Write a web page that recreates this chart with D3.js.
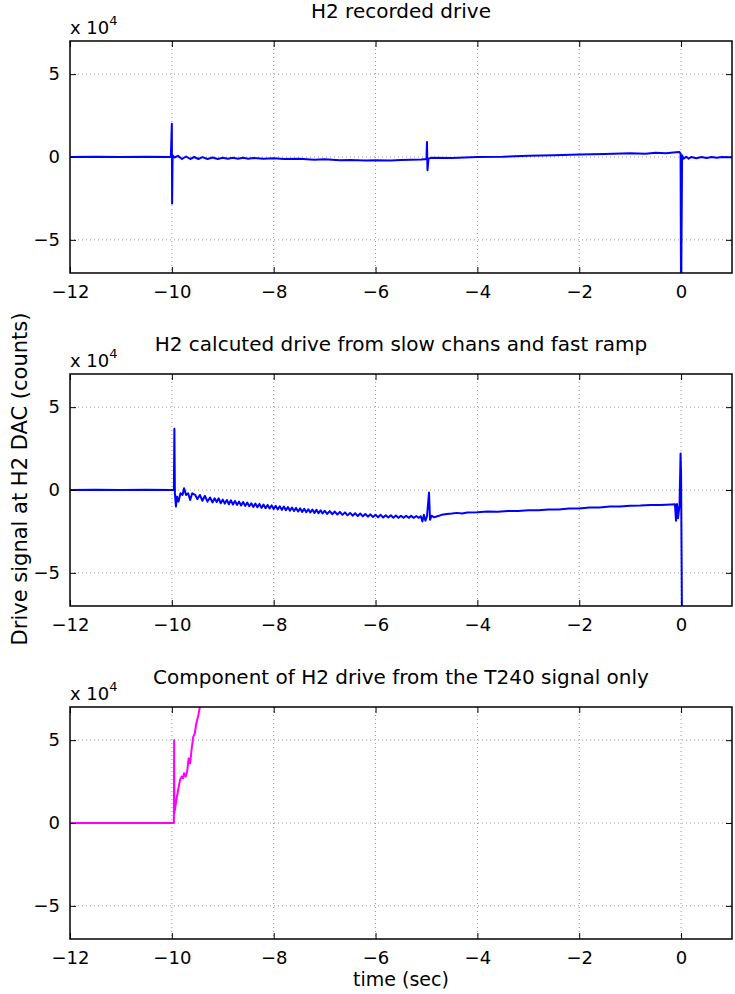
<!DOCTYPE html>
<html>
<head>
<meta charset="utf-8">
<script src="https://cdn.jsdelivr.net/npm/d3@7"></script>
<style>
  body { margin: 0; background: #fff; }
  svg text { font-family: "DejaVu Sans", sans-serif; fill: #000; }
  .grid line { stroke: #999; stroke-dasharray: 1,3; }
</style>
</head>
<body>
<div class="chart"></div>
<script>
// values in units of 10^4 counts, time in seconds
const xTicks = [-12, -10, -8, -6, -4, -2, 0];
const yTicks = [-5, 0, 5];
const titles = [
  'H2 recorded drive',
  'H2 calcuted drive from slow chans and fast ramp',
  'Component of H2 drive from the T240 signal only'
];

const recordedDrive = [
  [-12, 0.0], [-11.5, 0.02], [-11, 0.0], [-10.5, 0.02], [-10.02, 0.0], [-10.0, 2.0], [-9.995, -2.8],
  [-9.985, 0.1], [-9.95, -0.03], [-9.88, 0.07], [-9.8, -0.12], [-9.72, 0.03], [-9.64, -0.12],
  [-9.56, 0.0], [-9.48, -0.12], [-9.4, -0.01], [-9.3, -0.12], [-9.2, -0.03], [-9.1, -0.12],
  [-9.0, -0.04], [-8.9, -0.11], [-8.8, -0.04], [-8.7, -0.11], [-8.6, -0.05], [-8.5, -0.11],
  [-8.4, -0.06], [-8.2, -0.11], [-8.0, -0.08], [-7.8, -0.12], [-7.5, -0.1], [-7.2, -0.16],
  [-7.0, -0.14], [-6.7, -0.19], [-6.5, -0.18], [-6.2, -0.21], [-6.0, -0.2], [-5.7, -0.21],
  [-5.5, -0.18], [-5.1, -0.15], [-5.0, -0.12], [-4.99, 0.9], [-4.98, -0.8], [-4.96, -0.1],
  [-4.9, -0.05], [-4.5, -0.06], [-4.0, 0.0], [-3.5, 0.02], [-3.0, 0.08], [-2.5, 0.1],
  [-2.0, 0.15], [-1.5, 0.18], [-1.0, 0.22], [-0.7, 0.2], [-0.5, 0.25], [-0.3, 0.22],
  [-0.1, 0.28], [-0.03, 0.3], [-0.01, 0.2], [0.0, -9], [0.02, 0.1], [0.05, -0.1],
  [0.1, 0.02], [0.15, -0.1], [0.2, 0.0], [0.3, -0.08], [0.4, 0.0], [0.5, -0.06],
  [0.6, 0.0], [0.7, -0.04], [0.8, 0.0], [1.0, -0.02]
];

const calculatedDrive = [
  [-12, 0], [-11.5, 0.02], [-11, 0.0], [-10.5, 0.02], [-10.0, 0.0], [-9.96, 0.0], [-9.95, 3.7],
  [-9.94, -0.2], [-9.92, -1.0], [-9.9, -0.4], [-9.87, -0.7], [-9.83, -0.2], [-9.79, -0.3],
  [-9.76, 0.1], [-9.72, -0.3], [-9.68, -0.2], [-9.64, -0.6], [-9.6, -0.2], [-9.54, -0.3],
  [-9.5, -0.55], [-9.45, -0.3], [-9.4, -0.65], [-9.35, -0.35], [-9.3, -0.7], [-9.25, -0.45],
  [-9.2, -0.75], [-9.16, -0.5], [-9.12, -0.72], [-9.08, -0.5], [-9.04, -0.8], [-9.0, -0.58],
  [-8.96, -0.82], [-8.92, -0.6], [-8.88, -0.86], [-8.84, -0.62], [-8.8, -0.88], [-8.76, -0.66],
  [-8.72, -0.9], [-8.68, -0.7], [-8.64, -0.94], [-8.6, -0.72], [-8.56, -0.96], [-8.52, -0.76],
  [-8.48, -0.98], [-8.44, -0.8], [-8.4, -1.02], [-8.36, -0.82], [-8.32, -1.04], [-8.28, -0.84],
  [-8.24, -1.08], [-8.2, -0.88], [-8.16, -1.1], [-8.12, -0.9], [-8.08, -1.12], [-8.04, -0.93],
  [-8.0, -1.14], [-7.96, -0.96], [-7.92, -1.17], [-7.88, -0.98], [-7.84, -1.2], [-7.8, -1.0],
  [-7.76, -1.22], [-7.72, -1.03], [-7.68, -1.25], [-7.64, -1.06], [-7.6, -1.27], [-7.56, -1.08],
  [-7.52, -1.3], [-7.48, -1.11], [-7.44, -1.32], [-7.4, -1.13], [-7.36, -1.34], [-7.32, -1.16],
  [-7.28, -1.36], [-7.24, -1.18], [-7.2, -1.38], [-7.16, -1.2], [-7.12, -1.4], [-7.08, -1.22],
  [-7.04, -1.42], [-7.0, -1.25], [-6.95, -1.44], [-6.9, -1.27], [-6.85, -1.46], [-6.8, -1.3],
  [-6.75, -1.48], [-6.7, -1.32], [-6.65, -1.5], [-6.6, -1.35], [-6.55, -1.53], [-6.5, -1.38],
  [-6.45, -1.55], [-6.4, -1.4], [-6.35, -1.57], [-6.3, -1.42], [-6.25, -1.59], [-6.2, -1.45],
  [-6.15, -1.61], [-6.1, -1.47], [-6.05, -1.63], [-6.0, -1.49], [-5.95, -1.64], [-5.9, -1.5],
  [-5.85, -1.66], [-5.8, -1.52], [-5.75, -1.66], [-5.7, -1.53], [-5.65, -1.67], [-5.6, -1.54],
  [-5.55, -1.68], [-5.5, -1.55], [-5.45, -1.68], [-5.4, -1.55], [-5.35, -1.68], [-5.3, -1.56],
  [-5.25, -1.68], [-5.2, -1.57], [-5.15, -1.68], [-5.11, -1.58], [-5.08, -1.9], [-5.05, -1.5],
  [-5.02, -1.85], [-4.99, -1.6], [-4.95, -0.15], [-4.93, -1.8], [-4.9, -1.55], [-4.85, -1.65],
  [-4.8, -1.6], [-4.7, -1.5], [-4.6, -1.45], [-4.5, -1.42], [-4.4, -1.38], [-4.3, -1.42],
  [-4.2, -1.36], [-4.0, -1.34], [-3.8, -1.3], [-3.6, -1.31], [-3.4, -1.26], [-3.2, -1.27],
  [-3.0, -1.22], [-2.8, -1.22], [-2.6, -1.17], [-2.4, -1.17], [-2.2, -1.12], [-2.0, -1.11],
  [-1.8, -1.06], [-1.6, -1.05], [-1.4, -1.0], [-1.2, -0.99], [-1.0, -0.95], [-0.8, -0.94],
  [-0.6, -0.9], [-0.4, -0.91], [-0.2, -0.87], [-0.12, -0.86], [-0.1, -1.85], [-0.08, -0.85],
  [-0.06, -1.7], [-0.03, -0.9], [-0.01, 2.2], [0.0, 1.0], [0.02, -9]
];

const t240Component = [
  [-12, 0], [-11, 0], [-10, 0], [-9.96, 0], [-9.955, 5.0], [-9.95, 0.6], [-9.93, 1.0],
  [-9.9, 1.6], [-9.87, 2.1], [-9.84, 2.6], [-9.81, 2.8], [-9.78, 2.7], [-9.76, 3.0],
  [-9.73, 2.8], [-9.7, 3.1], [-9.67, 3.9], [-9.64, 3.6], [-9.61, 4.5], [-9.58, 5.2],
  [-9.55, 5.4], [-9.52, 6.0], [-9.48, 6.5], [-9.45, 7.0], [-9.42, 7.6]
];

const series = [
  { data: recordedDrive, color: '#0000ff' },
  { data: calculatedDrive, color: '#0000ff' },
  { data: t240Component, color: '#ff00ff' }
];

const width = 735, height = 994;
const left = 70, right = 732;
const panelTops = [41, 374, 707];
const panelH = 232;

const svg = d3.select('.chart').append('svg')
  .attr('width', width)
  .attr('height', height);

const x = d3.scaleLinear().domain([-12, 1]).range([left, right]);

series.forEach(function(s, i) {
  const top = panelTops[i];
  const y = d3.scaleLinear().domain([-7, 7]).range([top + panelH, top]);
  const g = svg.append('g');

  // grid
  const grid = g.append('g').attr('class', 'grid');
  grid.selectAll('.gx').data(xTicks.filter(d => d > -12)).enter().append('line')
    .attr('x1', d => x(d)).attr('x2', d => x(d))
    .attr('y1', top).attr('y2', top + panelH);
  grid.selectAll('.gy').data(yTicks).enter().append('line')
    .attr('x1', left).attr('x2', right)
    .attr('y1', d => y(d)).attr('y2', d => y(d));

  // clipped signal
  g.append('clipPath').attr('id', 'clip' + i)
    .append('rect').attr('x', left).attr('y', top).attr('width', right - left).attr('height', panelH);

  const line = d3.line().x(d => x(d[0])).y(d => y(d[1]));
  g.append('path')
    .datum(s.data)
    .attr('clip-path', 'url(#clip' + i + ')')
    .attr('fill', 'none')
    .attr('stroke', s.color)
    .attr('stroke-width', 2)
    .attr('stroke-linejoin', 'round')
    .attr('d', line);

  // axes with inward ticks
  const axisStyle = function(a) {
    a.select('.domain').remove();
    a.selectAll('.tick line').attr('stroke', '#000');
    a.selectAll('.tick text').style('font-size', '18px');
  };
  g.append('g')
    .attr('transform', 'translate(0,' + (top + panelH) + ')')
    .call(d3.axisBottom(x).tickValues(xTicks).tickSizeInner(-6).tickSizeOuter(0).tickPadding(12))
    .call(axisStyle);
  g.append('g')
    .attr('transform', 'translate(0,' + top + ')')
    .call(d3.axisTop(x).tickValues(xTicks).tickSizeInner(-6).tickSizeOuter(0).tickFormat(''))
    .call(axisStyle);
  g.append('g')
    .attr('transform', 'translate(' + left + ',0)')
    .call(d3.axisLeft(y).tickValues(yTicks).tickSizeInner(-6).tickSizeOuter(0).tickPadding(10))
    .call(axisStyle);
  g.append('g')
    .attr('transform', 'translate(' + right + ',0)')
    .call(d3.axisRight(y).tickValues(yTicks).tickSizeInner(-6).tickSizeOuter(0).tickFormat(''))
    .call(axisStyle);

  g.append('rect')
    .attr('x', left).attr('y', top).attr('width', right - left).attr('height', panelH)
    .attr('fill', 'none').attr('stroke', '#000').attr('stroke-width', 1.5);

  // exponent label
  const ex = g.append('text').attr('x', left).attr('y', top - 7).style('font-size', '18px');
  ex.append('tspan').text('x 10');
  ex.append('tspan').attr('dy', -9).style('font-size', '13px').text('4');

  g.append('text')
    .attr('x', (left + right) / 2).attr('y', top - 23)
    .attr('text-anchor', 'middle')
    .style('font-size', '20px')
    .text(titles[i]);
});

svg.append('text')
  .attr('x', (left + right) / 2).attr('y', 986)
  .attr('text-anchor', 'middle')
  .style('font-size', '19px')
  .text('time (sec)');

svg.append('text')
  .attr('transform', 'translate(27,479) rotate(-90)')
  .attr('text-anchor', 'middle')
  .style('font-size', '21px')
  .text('Drive signal at H2 DAC (counts)');
</script>
</body>
</html>
